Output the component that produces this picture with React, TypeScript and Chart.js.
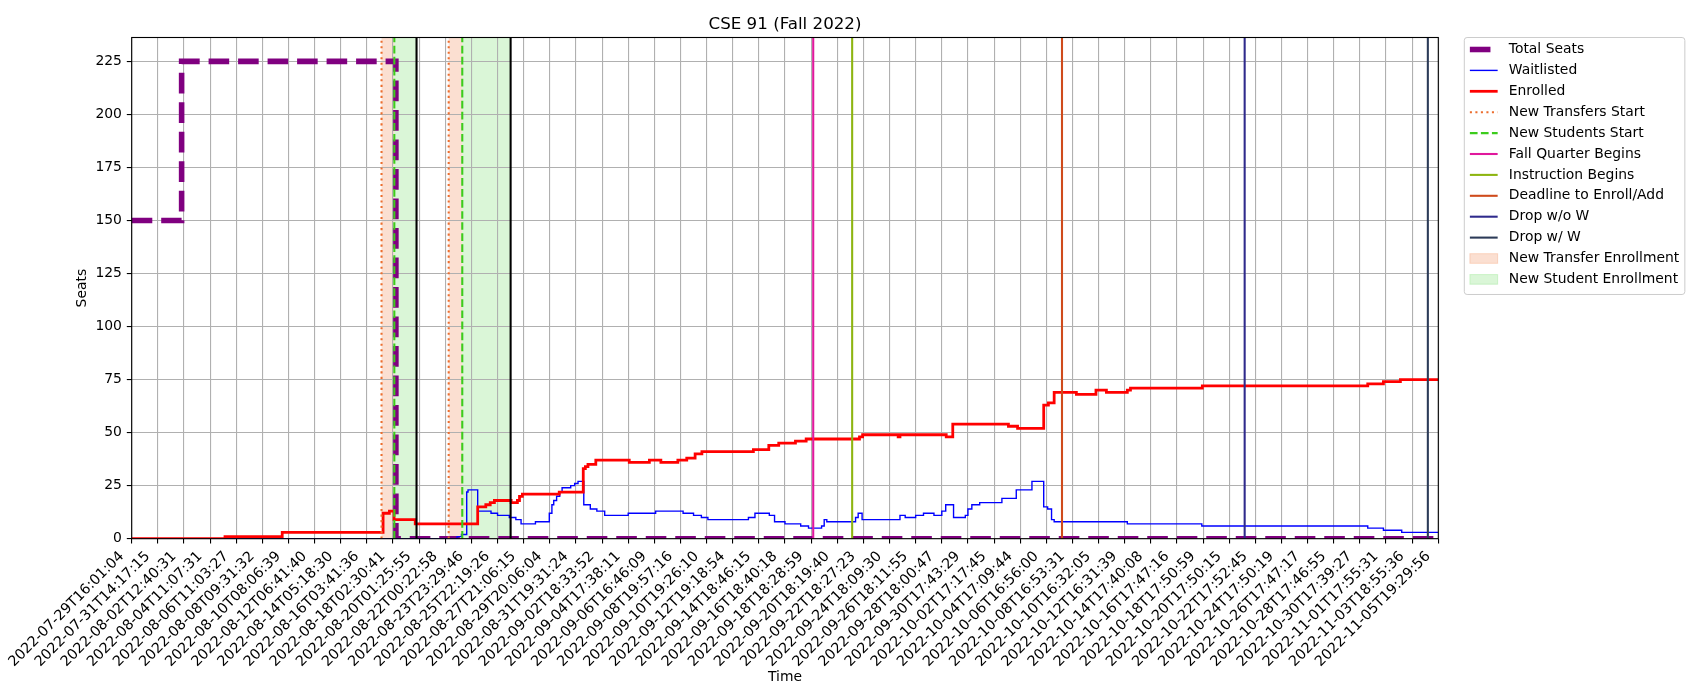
import { useEffect, useRef } from "react";
import { Chart, registerables } from "chart.js";

Chart.register(...registerables);

const FONT = "'DejaVu Sans', sans-serif";

// x positions are in tick-index units (one unit per labelled snapshot)
const tickLabels = [
    "2022-07-29T16:01:04", "2022-07-31T14:17:15", "2022-08-02T12:40:31", "2022-08-04T11:07:31",
    "2022-08-06T11:03:27", "2022-08-08T09:31:32", "2022-08-10T08:06:39", "2022-08-12T06:41:40",
    "2022-08-14T05:18:30", "2022-08-16T03:41:36", "2022-08-18T02:30:41", "2022-08-20T01:25:55",
    "2022-08-22T00:22:58", "2022-08-23T23:29:46", "2022-08-25T22:19:26", "2022-08-27T21:06:15",
    "2022-08-29T20:06:04", "2022-08-31T19:31:24", "2022-09-02T18:33:52", "2022-09-04T17:38:11",
    "2022-09-06T16:46:09", "2022-09-08T19:57:16", "2022-09-10T19:26:10", "2022-09-12T19:18:54",
    "2022-09-14T18:46:15", "2022-09-16T18:40:18", "2022-09-18T18:28:59", "2022-09-20T18:19:40",
    "2022-09-22T18:27:23", "2022-09-24T18:09:30", "2022-09-26T18:11:55", "2022-09-28T18:00:47",
    "2022-09-30T17:43:29", "2022-10-02T17:17:45", "2022-10-04T17:09:44", "2022-10-06T16:56:00",
    "2022-10-08T16:53:31", "2022-10-10T16:32:05", "2022-10-12T16:31:39", "2022-10-14T17:40:08",
    "2022-10-16T17:47:16", "2022-10-18T17:50:59", "2022-10-20T17:50:15", "2022-10-22T17:52:45",
    "2022-10-24T17:50:19", "2022-10-26T17:47:17", "2022-10-28T17:46:55", "2022-10-30T17:39:27",
    "2022-11-01T17:55:31", "2022-11-03T18:55:36", "2022-11-05T19:29:56",
];

// step series: each point is where the value changes
const totalSeatsX = [0, 1.91, 10.11, 50];
const totalSeatsY = [150, 225, 0, 0];

const enrolledX = [
    0, 3.57, 5.76, 9.62, 9.86, 10.04, 10.85, 13.24, 13.55, 13.72, 13.88, 14.52, 14.76, 14.84, 14.95,
    16.36, 17.28, 17.36, 17.46, 17.76, 19.04, 19.81, 20.25, 20.9, 21.24, 21.56, 21.82, 23.79, 24.38,
    24.76, 25.4, 25.81, 27.85, 27.97, 29.33, 29.4, 31.17, 31.42, 33.55, 33.9, 34.9, 35.08, 35.3,
    36.15, 36.9, 37.3, 38.1, 38.22, 40.97, 47.3, 47.9, 48.55, 50,
];
const enrolledY = [
    0, 1, 3, 12, 13, 9, 7, 15, 16, 17, 18, 17, 18, 20, 21,
    22, 33, 34, 35, 37, 36, 37, 36, 37, 38, 40, 41, 42, 44,
    45, 46, 47, 48, 49, 48, 49, 48, 54, 53, 52, 63, 64, 69,
    68, 70, 69, 70, 71, 72, 73, 74, 75, 75,
];

const waitlistedX = [
    0, 12.45, 12.62, 12.82, 12.87, 13.24, 13.75, 14.0, 14.45, 14.7, 14.9, 15.45,
    15.98, 16.08, 16.15, 16.26, 16.38, 16.47, 16.8, 16.95, 17.08,
    17.3, 17.55, 17.8, 18.1, 19.0, 20.05, 21.1, 21.5, 21.8, 22.05,
    23.6, 23.85, 24.4, 24.6, 25.0, 25.6, 25.9, 26.4, 26.5, 26.6,
    27.7, 27.8, 27.95, 29.4, 29.6, 30.0, 30.3, 30.7, 31.0, 31.15, 31.45,
    31.9, 32.0, 32.15, 32.45, 33.3, 33.85, 34.45, 34.9, 35.05, 35.2, 35.3,
    38.1, 40.95, 47.3, 47.9, 48.6, 50,
];
const waitlistedY = [
    0, 1, 2, 22, 23, 13, 12, 11, 10, 9, 7, 8,
    12, 16, 18, 20, 22, 24, 25, 26, 27,
    16, 14, 13, 11, 12, 13, 12, 11, 10, 9,
    10, 12, 11, 8, 7, 6, 5, 6, 9, 8,
    10, 12, 9, 11, 10, 11, 12, 11, 13, 16, 10,
    11, 14, 16, 17, 19, 23, 27, 15, 14, 9, 8,
    7, 6, 5, 4, 3, 3,
];

// event markers
const newTransfersStart = [9.56, 12.13];
const newStudentsStart = [10.05, 12.65];
const studentWindowEnds = [10.9, 14.5];
const fallQuarterBegins = [26.08];
const instructionBegins = [27.57];
const deadlineToEnroll = [35.6];
const dropWithoutW = [42.59];
const dropWithW = [49.6];

const transferEnrollment = [[9.56, 10.05], [12.13, 12.65]];
const studentEnrollment = [[10.05, 10.9], [12.65, 14.5]];

const toPoints = (xs: number[], ys: number[]) => xs.map((x, i) => ({ x, y: ys[i] }));

type VLine = { label: string | null; xs: number[]; color: string; width: number; dash: number[] };

const vlines: VLine[] = [
    { label: "New Transfers Start", xs: newTransfersStart, color: "#ec6e2e", width: 2.08, dash: [2.08, 3.43] },
    { label: "New Students Start", xs: newStudentsStart, color: "#3ccc1c", width: 2.08, dash: [7.7, 3.33] },
    { label: null, xs: studentWindowEnds, color: "#000000", width: 2.08, dash: [] },
    { label: "Fall Quarter Begins", xs: fallQuarterBegins, color: "#e0189c", width: 2.08, dash: [] },
    { label: "Instruction Begins", xs: instructionBegins, color: "#8db510", width: 2.08, dash: [] },
    { label: "Deadline to Enroll/Add", xs: deadlineToEnroll, color: "#cf4b1c", width: 2.08, dash: [] },
    { label: "Drop w/o W", xs: dropWithoutW, color: "#2f2a8c", width: 2.08, dash: [] },
    { label: "Drop w/ W", xs: dropWithW, color: "#2c3b58", width: 2.08, dash: [] },
];

const spans = [
    { label: "New Transfer Enrollment", ranges: transferEnrollment, fill: "rgba(236,110,46,0.22)" },
    { label: "New Student Enrollment", ranges: studentEnrollment, fill: "rgba(60,205,40,0.19)" },
];

const spanPlugin = {
    id: "spans",
    beforeDraw(chart: any) {
        const { ctx, chartArea, scales } = chart;
        ctx.save();
        for (const s of spans) {
            ctx.fillStyle = s.fill;
            for (const [a, b] of s.ranges) {
                const x1 = scales.x.getPixelForValue(a);
                const x2 = scales.x.getPixelForValue(b);
                ctx.fillRect(x1, chartArea.top, x2 - x1, chartArea.bottom - chartArea.top);
            }
        }
        ctx.restore();
    },
};

const markerPlugin = {
    id: "markers",
    afterDatasetsDraw(chart: any) {
        const { ctx, chartArea, scales } = chart;
        ctx.save();
        for (const v of vlines) {
            ctx.strokeStyle = v.color;
            ctx.lineWidth = v.width;
            ctx.setLineDash(v.dash);
            for (const val of v.xs) {
                const px = scales.x.getPixelForValue(val);
                ctx.beginPath();
                ctx.moveTo(px, chartArea.bottom);
                ctx.lineTo(px, chartArea.top);
                ctx.stroke();
            }
        }
        ctx.setLineDash([]);
        ctx.strokeStyle = "#000";
        ctx.lineWidth = 1.1;
        ctx.strokeRect(chartArea.left, chartArea.top, chartArea.right - chartArea.left, chartArea.bottom - chartArea.top);
        ctx.restore();
    },
};

const legendPlugin = {
    id: "mplLegend",
    afterDraw(chart: any) {
        const { ctx, chartArea } = chart;
        ctx.save();

        // title
        ctx.fillStyle = "#000";
        ctx.font = `16.7px ${FONT}`;
        ctx.textAlign = "center";
        ctx.textBaseline = "alphabetic";
        ctx.fillText("CSE 91 (Fall 2022)", (chartArea.left + chartArea.right) / 2, chartArea.top - 8.3);

        const items: any[] = [];
        chart.data.datasets.forEach((d: any) =>
            items.push({ kind: "line", label: d.label, color: d.borderColor, width: d.borderWidth, dash: d.borderDash || [], sort: d.legendIndex })
        );
        items.sort((a, b) => a.sort - b.sort);
        vlines.filter((v) => v.label).forEach((v) => items.push({ kind: "line", label: v.label, color: v.color, width: v.width, dash: v.dash }));
        spans.forEach((s) => items.push({ kind: "patch", label: s.label, color: s.fill }));

        const fs = 13.9;
        ctx.font = `${fs}px ${FONT}`;
        const maxText = Math.max(...items.map((it) => ctx.measureText(it.label).width));
        const bx = chartArea.right + 26;
        const by = chartArea.top;
        const pad = 0.4 * fs;
        const handle = 2 * fs;
        const rowH = 20.9;
        const textX = bx + pad + handle + 0.8 * fs;
        const bw = textX + maxText + pad - bx;
        const bh = pad * 2 + rowH * items.length - 0.5 * fs + 2;

        ctx.beginPath();
        ctx.roundRect(bx, by, bw, bh, 2.8);
        ctx.fillStyle = "rgba(255,255,255,0.8)";
        ctx.fill();
        ctx.strokeStyle = "#cccccc";
        ctx.lineWidth = 1;
        ctx.stroke();

        items.forEach((it, i) => {
            const cy = by + 12 + i * rowH;
            const hx = bx + pad;
            if (it.kind === "line") {
                ctx.strokeStyle = it.color;
                ctx.lineWidth = it.width;
                ctx.setLineDash(it.dash);
                ctx.beginPath();
                ctx.moveTo(hx, cy);
                ctx.lineTo(hx + handle, cy);
                ctx.stroke();
                ctx.setLineDash([]);
            } else {
                ctx.fillStyle = it.color;
                ctx.fillRect(hx, cy - 4.85, handle, 9.7);
                ctx.strokeStyle = it.color;
                ctx.lineWidth = 1;
                ctx.strokeRect(hx, cy - 4.85, handle, 9.7);
            }
            ctx.fillStyle = "#000";
            ctx.textAlign = "left";
            ctx.textBaseline = "middle";
            ctx.fillText(it.label, textX, cy);
        });
        ctx.restore();
    },
};

export default function App() {
    const canvasRef = useRef<HTMLCanvasElement | null>(null);

    useEffect(() => {
        if (!canvasRef.current) {
            return;
        }

        const tickFont = { family: FONT, size: 13.9 };

        const chart = new Chart(canvasRef.current, {
            type: "line",
            data: {
                datasets: [
                    {
                        label: "Enrolled",
                        data: toPoints(enrolledX, enrolledY),
                        borderColor: "#ff0000",
                        borderWidth: 2.78,
                        stepped: true,
                        pointRadius: 0,
                        fill: false,
                        clip: 0,
                        order: 0,
                        legendIndex: 2,
                    } as any,
                    {
                        label: "Waitlisted",
                        data: toPoints(waitlistedX, waitlistedY),
                        borderColor: "#0000ff",
                        borderWidth: 1.39,
                        stepped: true,
                        pointRadius: 0,
                        fill: false,
                        clip: 0,
                        order: 1,
                        legendIndex: 1,
                    },
                    {
                        label: "Total Seats",
                        data: toPoints(totalSeatsX, totalSeatsY),
                        borderColor: "#800080",
                        borderWidth: 5.56,
                        borderDash: [20.6, 8.9],
                        stepped: true,
                        pointRadius: 0,
                        fill: false,
                        clip: 0,
                        order: 2,
                        legendIndex: 0,
                    },
                ],
            },
            options: {
                animation: false,
                responsive: true,
                maintainAspectRatio: false,
                layout: { padding: { left: 70, right: 261.7, top: 37.5, bottom: 10 } },
                plugins: {
                    legend: { display: false },
                    title: { display: false },
                    tooltip: { enabled: false },
                },
                scales: {
                    x: {
                        type: "linear",
                        min: 0,
                        max: 50,
                        afterFit: (s: any) => {
                            s.height = 151.3;
                        },
                        ticks: {
                            stepSize: 1,
                            autoSkip: false,
                            maxRotation: 45,
                            minRotation: 45,
                            padding: 4.5,
                            labelOffset: -10,
                            color: "#000",
                            font: { family: FONT, size: 14.3 },
                            callback: (v: any) => tickLabels[Math.round(Number(v))] ?? "",
                        },
                        grid: { color: "#b0b0b0", lineWidth: 1.1, tickColor: "#000", tickLength: 4.9, tickWidth: 1.1 },
                        border: { display: false },
                        title: { display: true, text: "Time", color: "#000", font: tickFont, padding: { top: 4, bottom: 4 } },
                    },
                    y: {
                        type: "linear",
                        min: 0,
                        max: 236.25,
                        afterFit: (s: any) => {
                            s.width = 61.7;
                        },
                        ticks: {
                            stepSize: 25,
                            includeBounds: false,
                            padding: 4.9,
                            color: "#000",
                            font: tickFont,
                        },
                        grid: { color: "#b0b0b0", lineWidth: 1.1, tickColor: "#000", tickLength: 4.9, tickWidth: 1.1 },
                        border: { display: false },
                        title: { display: true, text: "Seats", color: "#000", font: tickFont, padding: { top: 4, bottom: 4 } },
                    },
                },
            },
            plugins: [spanPlugin, markerPlugin, legendPlugin],
        });

        return () => chart.destroy();
    }, []);

    return (
        <div style={{ position: "absolute", left: 0, top: 0, width: 1700, height: 700, background: "#fff" }}>
            <canvas ref={canvasRef} />
        </div>
    );
}
